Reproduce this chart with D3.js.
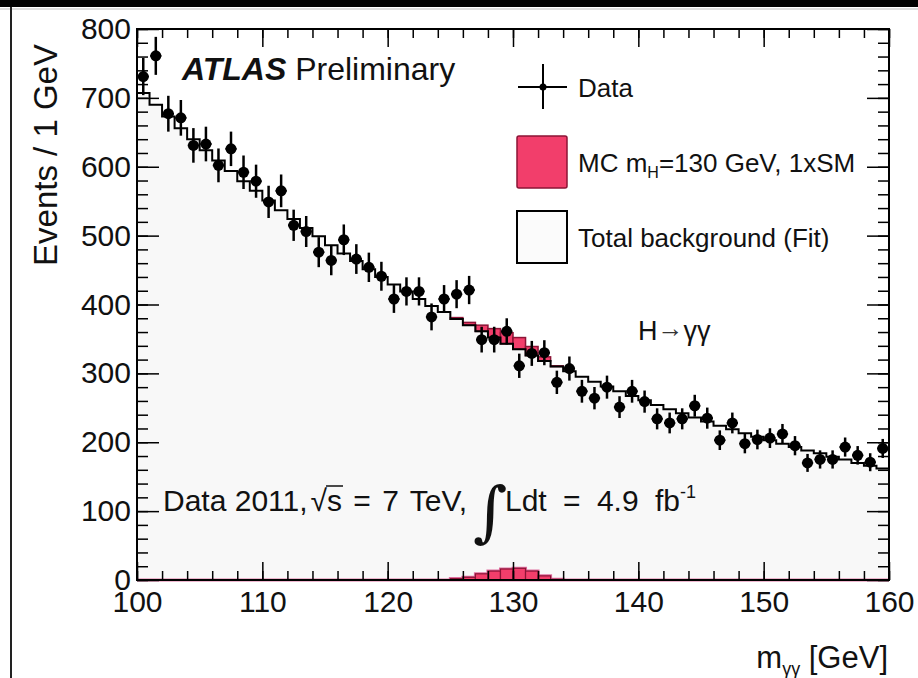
<!DOCTYPE html>
<html>
<head>
<meta charset="utf-8">
<script src="https://cdn.jsdelivr.net/npm/d3@7"></script>
<style>
  body { margin: 0; background: #fff; }
  svg { display: block; font-family: "Liberation Sans", Arial, Helvetica, sans-serif; }
</style>
</head>
<body>
<div id="chart"></div>
<script>
// m_yy histogram, 1 GeV bins from 100 to 160 (lower bin edges)
const binLow = d3.range(100, 160);

const dataCounts = [
  731, 761, 677, 671, 631, 633, 602, 626, 592, 579,
  549, 565, 515, 506, 476, 464, 494, 466, 454, 441,
  408, 419, 419, 382, 408, 415, 421, 349, 349, 361,
  311, 329, 330, 287, 307, 274, 264, 280, 251, 274,
  259, 234, 228, 234, 253, 235, 203, 228, 198, 204,
  206, 212, 195, 170, 175, 175, 193, 181, 171, 191
];

// background fit, per bin
const bkgFit = [
  707, 690, 673, 656, 640, 624, 609, 594, 579, 565,
  551, 537, 524, 511, 499, 486, 474, 463, 451, 440,
  429, 419, 408, 398, 389, 379, 370, 361, 352, 343,
  335, 326, 318, 310, 303, 295, 288, 281, 274, 267,
  261, 254, 248, 242, 236, 230, 224, 219, 213, 208,
  203, 198, 193, 188, 184, 179, 175, 170, 166, 162
];

// MC signal m_H = 130 GeV, 1xSM
const signalMC = [
  0, 0, 0, 0, 0, 0, 0, 0, 0, 0,
  0, 0, 0, 0, 0, 0, 0, 0, 0, 0,
  0, 0, 0, 0, 0, 2, 4, 9, 13, 16,
  17, 13, 6, 1, 0, 0, 0, 0, 0, 0,
  0, 0, 0, 0, 0, 0, 0, 0, 0, 0,
  0, 0, 0, 0, 0, 0, 0, 0, 0, 0
];

const yMajor = d3.range(0, 801, 100);
const yMinor = d3.range(0, 801, 20);
const xMajor = d3.range(100, 161, 10);
const xMinor = d3.range(100, 161, 2);

const W = 918, H = 678;
const margin = {top: 29, right: 29, bottom: 98, left: 137};
const w = W - margin.left - margin.right;
const h = H - margin.top - margin.bottom;

const sigFill = '#f23e6b';
const sigLine = '#8c1436';
const ink = '#111';

const svg = d3.select('#chart').append('svg')
  .attr('width', W)
  .attr('height', H);

// scan artefacts: black strip on top, line on the left
svg.append('rect').attr('x', 0).attr('y', 0).attr('width', W).attr('height', 7).attr('fill', '#000');
svg.append('line').attr('x1', 0).attr('x2', W).attr('y1', 9).attr('y2', 9).attr('stroke', '#bbb');
svg.append('line').attr('x1', 11).attr('x2', 11).attr('y1', 7).attr('y2', H)
  .attr('stroke', '#222').attr('stroke-width', 2);

const g = svg.append('g').attr('transform', `translate(${margin.left},${margin.top})`);

const x = d3.scaleLinear().domain([100, 160]).range([0, w]);
const y = d3.scaleLinear().domain([0, 800]).range([h, 0]);

// background: filled step histogram
const bkgPts = binLow.map((m, i) => [m, bkgFit[i]]).concat([[160, bkgFit[bkgFit.length - 1]]]);
g.append('path')
  .datum(bkgPts)
  .attr('fill', '#f8f8f8')
  .attr('d', d3.area().curve(d3.curveStepAfter).x(d => x(d[0])).y0(y(0)).y1(d => y(d[1])));

// signal stacked on top of the background
const sigBins = binLow.map((m, i) => ({m, b: bkgFit[i], s: signalMC[i]})).filter(d => d.s > 0);
g.selectAll('rect.sig-stack')
  .data(sigBins)
  .enter()
  .append('rect')
  .attr('class', 'sig-stack')
  .attr('x', d => x(d.m))
  .attr('width', d => x(d.m + 1) - x(d.m))
  .attr('y', d => y(d.b + d.s))
  .attr('height', d => y(d.b) - y(d.b + d.s))
  .attr('fill', sigFill)
  .attr('stroke', sigLine)
  .attr('stroke-width', 1.5);

// background line
g.append('path')
  .datum(bkgPts)
  .attr('fill', 'none')
  .attr('stroke', '#000')
  .attr('stroke-width', 2)
  .attr('d', d3.line().curve(d3.curveStepAfter).x(d => x(d[0])).y(d => y(d[1])));

// signal alone, drawn from zero
const sigPts = binLow.map((m, i) => [m, signalMC[i]]).concat([[160, 0]]);
g.append('path')
  .datum(sigPts)
  .attr('fill', sigFill)
  .attr('stroke', '#e070a0')
  .attr('stroke-width', 3)
  .attr('d', d3.area().curve(d3.curveStepAfter).x(d => x(d[0])).y0(y(0)).y1(d => y(d[1])));
g.selectAll('rect.sig-alone')
  .data(sigBins)
  .enter()
  .append('rect')
  .attr('class', 'sig-alone')
  .attr('x', d => x(d.m))
  .attr('width', d => x(d.m + 1) - x(d.m))
  .attr('y', d => y(d.s))
  .attr('height', d => y(0) - y(d.s))
  .attr('fill', sigFill)
  .attr('stroke', sigLine)
  .attr('stroke-width', 1.2);

// data points with sqrt(N) errors
const pts = binLow.map((m, i) => ({m: m + 0.5, n: dataCounts[i]}));
const dataG = g.append('g');
dataG.selectAll('line.ey')
  .data(pts).enter().append('line')
  .attr('x1', d => x(d.m)).attr('x2', d => x(d.m))
  .attr('y1', d => y(d.n + Math.sqrt(d.n))).attr('y2', d => y(d.n - Math.sqrt(d.n)))
  .attr('stroke', '#000').attr('stroke-width', 2.5);
dataG.selectAll('line.ex')
  .data(pts).enter().append('line')
  .attr('x1', d => x(d.m - 0.45)).attr('x2', d => x(d.m + 0.45))
  .attr('y1', d => y(d.n)).attr('y2', d => y(d.n))
  .attr('stroke', '#000').attr('stroke-width', 2);
dataG.selectAll('circle')
  .data(pts).enter().append('circle')
  .attr('cx', d => x(d.m)).attr('cy', d => y(d.n)).attr('r', 5.5)
  .attr('fill', '#000');

// axes, ROOT style ticks pointing inward on all four sides
function styleAxis(sel) {
  sel.select('.domain').remove();
  sel.selectAll('line').attr('stroke', '#000').attr('stroke-width', 1.5);
}
g.append('g').call(d3.axisLeft(y).tickValues(yMinor).tickSizeInner(-11).tickSizeOuter(0).tickFormat('')).call(styleAxis);
g.append('g').attr('transform', `translate(${w},0)`)
  .call(d3.axisRight(y).tickValues(yMinor).tickSizeInner(-11).tickSizeOuter(0).tickFormat('')).call(styleAxis);
g.append('g').attr('transform', `translate(${w},0)`)
  .call(d3.axisRight(y).tickValues(yMajor).tickSizeInner(-22).tickSizeOuter(0).tickFormat('')).call(styleAxis);
g.append('g').attr('transform', `translate(0,${h})`)
  .call(d3.axisBottom(x).tickValues(xMinor).tickSizeInner(-9).tickSizeOuter(0).tickFormat('')).call(styleAxis);
g.append('g')
  .call(d3.axisTop(x).tickValues(xMinor).tickSizeInner(-9).tickSizeOuter(0).tickFormat('')).call(styleAxis);
g.append('g')
  .call(d3.axisTop(x).tickValues(xMajor).tickSizeInner(-18).tickSizeOuter(0).tickFormat('')).call(styleAxis);

const yAxis = g.append('g')
  .call(d3.axisLeft(y).tickValues(yMajor).tickSizeInner(-22).tickSizeOuter(0).tickPadding(6))
  .call(styleAxis);
yAxis.selectAll('text').attr('font-size', 30).attr('fill', ink).attr('font-family', null);

const xAxis = g.append('g').attr('transform', `translate(0,${h})`)
  .call(d3.axisBottom(x).tickValues(xMajor).tickSizeInner(-18).tickSizeOuter(0).tickPadding(0))
  .call(styleAxis);
xAxis.selectAll('text').attr('font-size', 30).attr('fill', ink).attr('font-family', null)
  .attr('y', 32).attr('dy', null);

g.append('rect').attr('width', w).attr('height', h)
  .attr('fill', 'none').attr('stroke', '#000').attr('stroke-width', 2);

// axis titles
svg.append('text')
  .attr('transform', 'translate(57,155) rotate(-90)')
  .attr('text-anchor', 'middle')
  .attr('font-size', 33).attr('fill', ink)
  .text('Events / 1 GeV');

const xt = svg.append('text')
  .attr('x', 888).attr('y', 668)
  .attr('text-anchor', 'end')
  .attr('font-size', 31).attr('fill', ink);
xt.append('tspan').text('m');
xt.append('tspan').attr('font-size', 18).attr('dy', 7).text('γγ');
xt.append('tspan').attr('dy', -7).text('\u00a0[GeV]');

// ATLAS label
const atl = svg.append('text').attr('x', 182).attr('y', 80).attr('font-size', 32).attr('fill', ink);
atl.append('tspan').attr('font-weight', 'bold').attr('font-style', 'italic').text('ATLAS');
atl.append('tspan').text('\u00a0Preliminary');

// legend
const lg = svg.append('g').attr('font-size', 26).attr('fill', ink);
lg.append('line').attr('x1', 518).attr('x2', 567).attr('y1', 87).attr('y2', 87).attr('stroke', '#000').attr('stroke-width', 2);
lg.append('line').attr('x1', 543).attr('x2', 543).attr('y1', 64).attr('y2', 109).attr('stroke', '#000').attr('stroke-width', 2);
lg.append('circle').attr('cx', 543).attr('cy', 87).attr('r', 3.5).attr('fill', '#000');
lg.append('text').attr('x', 578).attr('y', 97).text('Data');

lg.append('rect').attr('x', 517).attr('y', 136).attr('width', 50).attr('height', 52).attr('rx', 2)
  .attr('fill', sigFill).attr('stroke', sigLine).attr('stroke-width', 1.5);
const mc = lg.append('text').attr('x', 578).attr('y', 172);
mc.append('tspan').text('MC m');
mc.append('tspan').attr('font-size', 16).attr('dy', 6).text('H');
mc.append('tspan').attr('dy', -6).text('=130 GeV, 1xSM');

lg.append('rect').attr('x', 517).attr('y', 211).attr('width', 50).attr('height', 52)
  .attr('fill', '#fbfbfb').attr('stroke', '#000').attr('stroke-width', 2);
lg.append('text').attr('x', 578).attr('y', 247).text('Total background (Fit)');

// channel label
const ch = svg.append('text').attr('x', 638).attr('y', 340).attr('font-size', 27).attr('fill', ink);
ch.append('tspan').text('H');
ch.append('tspan').attr('font-size', 26).attr('dy', -3).attr('fill', '#333').text('→');
ch.append('tspan').attr('dy', 3).text('γγ');

// luminosity label
const fs = 30;
const lumi1 = svg.append('text').attr('x', 163).attr('y', 511).attr('font-size', fs).attr('fill', ink)
  .text('Data 2011,');
let cx = 163 + lumi1.node().getComputedTextLength() + 3;
const sq = svg.append('text').attr('x', cx).attr('y', 511).attr('font-size', fs).attr('fill', ink).text('√');
const sqW = sq.node().getComputedTextLength();
const sS = svg.append('text').attr('x', cx + sqW).attr('y', 511).attr('font-size', fs).attr('fill', ink).text('s');
const sW = sS.node().getComputedTextLength();
svg.append('line').attr('x1', cx + sqW - 1).attr('x2', cx + sqW + sW + 1)
  .attr('y1', 486).attr('y2', 486).attr('stroke', ink).attr('stroke-width', 1.5);
const lumi2 = svg.append('text').attr('x', cx + sqW + sW).attr('y', 511).attr('font-size', fs).attr('fill', ink)
  .attr('word-spacing', 3)
  .text('\u00a0= 7 TeV,');
cx = cx + sqW + sW + lumi2.node().getComputedTextLength() + 6;
svg.append('text').attr('x', cx).attr('y', 534)
  .attr('font-family', '"DejaVu Serif", "Liberation Serif", serif')
  .attr('font-size', 66).attr('fill', ink).text('∫');
const lumi3 = svg.append('text').attr('x', cx + 32).attr('y', 511).attr('font-size', fs).attr('fill', ink)
  .attr('word-spacing', 8);
lumi3.append('tspan').text('Ldt = 4.9 fb');
lumi3.append('tspan').attr('font-size', 18).attr('dy', -13).text('-1');
</script>
</body>
</html>
